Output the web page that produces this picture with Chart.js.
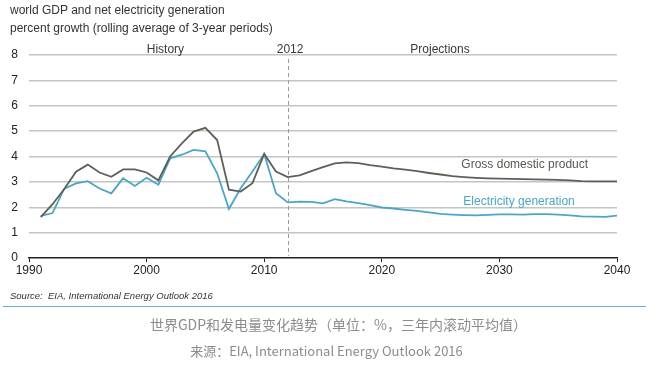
<!DOCTYPE html>
<html>
<head>
<meta charset="utf-8">
<script src="https://cdn.jsdelivr.net/npm/chart.js@4.4.1/dist/chart.umd.min.js"></script>
<style>
  html, body { margin: 0; padding: 0; background: #fff; width: 653px; height: 375px; overflow: hidden; }
  #wrap { position: absolute; left: 0; top: 0; width: 653px; height: 375px; }
  canvas { position: absolute; left: 0; top: 0; }
  .t { position: absolute; font-family: "Liberation Sans", Arial, sans-serif; color: #333; white-space: nowrap; }
  .cap { position: absolute; width: 653px; text-align: center; font-family: "Noto Sans CJK SC", "Noto Sans", sans-serif; color: #8c8c8c; white-space: nowrap; }
</style>
</head>
<body>
<div id="wrap">
  <canvas id="c" width="653" height="375"></canvas>
  <div class="t" style="left:10px; top:3px; font-size:12px;">world GDP and net electricity generation</div>
  <div class="t" style="left:10px; top:21px; font-size:12px;">percent growth (rolling average of 3-year periods)</div>
  <div class="t" style="left:10px; top:290px; font-size:9.5px; font-style:italic;">Source:&nbsp; EIA, International Energy Outlook 2016</div>
  <div style="position:absolute; left:3px; top:306px; width:643px; height:1px; background:#5fb3d6;"></div>
  <div class="cap" style="left:12px; top:314px; font-size:14px;">世界GDP和发电量变化趋势（单位：%，三年内滚动平均值）</div>
  <div class="cap" style="left:0px; top:341px; font-size:13px;">来源：EIA, International Energy Outlook 2016</div>
</div>
<script>
const years = [1991,1992,1993,1994,1995,1996,1997,1998,1999,2000,
  2001,2002,2003,2004,2005,2006,2007,2008,2009,2010,
  2011,2012,2013,2014,2015,2016,2017,2018,2019,2020,
  2021,2022,2023,2024,2025,2026,2027,2028,2029,2030,
  2031,2032,2033,2034,2035,2036,2037,2038,2039,2040];

const gdp = [1.61,2.12,2.72,3.40,3.68,3.37,3.20,3.49,3.49,3.37,
  3.06,4.00,4.52,4.98,5.13,4.65,2.69,2.62,2.95,4.10,
  3.41,3.19,3.26,3.42,3.58,3.73,3.77,3.74,3.66,3.60,
  3.53,3.48,3.42,3.35,3.29,3.23,3.19,3.16,3.14,3.13,
  3.12,3.11,3.10,3.09,3.08,3.06,3.03,3.02,3.02,3.02];

const electricity = [1.66,1.77,2.73,2.94,3.03,2.74,2.55,3.14,2.84,3.16,
  2.89,3.93,4.07,4.26,4.20,3.34,1.93,2.75,3.41,4.10,
  2.55,2.19,2.22,2.21,2.15,2.32,2.23,2.16,2.08,1.99,
  1.95,1.90,1.86,1.80,1.74,1.71,1.69,1.68,1.70,1.72,
  1.72,1.71,1.73,1.73,1.71,1.68,1.64,1.63,1.62,1.67];

const xTickValues = [1990,2000,2010,2020,2030,2040];
const yTickValues = [0,1,2,3,4,5,6,7,8];
const seriesNames = ["Gross domestic product","Electricity generation"];
const periodLabels = ["History","2012","Projections"];
const dividerYear = 2012;

const gdpColor = '#5b6155';
const elecColor = '#48a6cb';

const annotations = {
  id: 'annotations',
  afterDatasetsDraw(chart) {
    const {ctx, chartArea, scales} = chart;
    const x = scales.x, y = scales.y;
    ctx.save();
    const dx = Math.round(x.getPixelForValue(dividerYear)) + 0.5;
    ctx.strokeStyle = '#9a9a9a';
    ctx.lineWidth = 1;
    ctx.setLineDash([4, 3]);
    ctx.beginPath();
    ctx.moveTo(dx, chartArea.top + 4);
    ctx.lineTo(dx, chartArea.bottom - 2);
    ctx.stroke();
    ctx.setLineDash([]);
    ctx.font = '12px "Liberation Sans", Arial, sans-serif';
    ctx.fillStyle = '#3a3a3a';
    ctx.textAlign = 'center';
    ctx.textBaseline = 'middle';
    const top = chartArea.top - 5;
    ctx.fillText(periodLabels[0], x.getPixelForValue(2001.6), top);
    ctx.fillText(periodLabels[1], x.getPixelForValue(2012.2), top);
    ctx.fillText(periodLabels[2], x.getPixelForValue(2024.95), top);
    ctx.textAlign = 'left';
    ctx.fillStyle = '#555a50';
    ctx.fillText(seriesNames[0], x.getPixelForValue(2036.8) - 118, y.getPixelForValue(3.68));
    ctx.fillStyle = elecColor;
    ctx.fillText(seriesNames[1], x.getPixelForValue(2036.8) - 116, y.getPixelForValue(2.2));
    ctx.restore();
  }
};

new Chart(document.getElementById('c'), {
  type: 'line',
  data: {
    datasets: [
      { label: seriesNames[0], data: years.map((yr, i) => ({x: yr, y: gdp[i]})),
        borderColor: gdpColor, borderWidth: 1.8, pointRadius: 0, tension: 0, fill: false },
      { label: seriesNames[1], data: years.map((yr, i) => ({x: yr, y: electricity[i]})),
        borderColor: elecColor, borderWidth: 1.8, pointRadius: 0, tension: 0, fill: false }
    ]
  },
  options: {
    responsive: false,
    devicePixelRatio: 1,
    animation: false,
    layout: { padding: { left: 0, right: 36, top: 55, bottom: 97 } },
    plugins: { legend: { display: false }, tooltip: { enabled: false } },
    scales: {
      x: {
        type: 'linear', min: 1990, max: 2040,
        afterBuildTicks: (axis) => { axis.ticks = xTickValues.map(v => ({value: v})); },
        afterFit: (axis) => { axis.height = 20; },
        ticks: { callback: v => String(v), color: '#222', font: { family: '"Liberation Sans", Arial, sans-serif', size: 12 }, padding: 1, maxRotation: 0 },
        grid: { drawOnChartArea: false, drawTicks: true, tickLength: 4, color: '#222', lineWidth: 1 },
        border: { display: true, color: '#222', width: 1.5 }
      },
      y: {
        min: 0, max: 8,
        afterBuildTicks: (axis) => { axis.ticks = yTickValues.map(v => ({value: v})); },
        afterFit: (axis) => { axis.width = 29; },
        ticks: { color: '#222', font: { family: '"Liberation Sans", Arial, sans-serif', size: 12 }, padding: 11 },
        grid: { drawTicks: false, color: ctx => ctx.tick && ctx.tick.value === 0 ? 'rgba(0,0,0,0)' : '#c4c4c4', lineWidth: 1.5 },
        border: { display: false }
      }
    }
  },
  plugins: [annotations]
});
</script>
</body>
</html>
